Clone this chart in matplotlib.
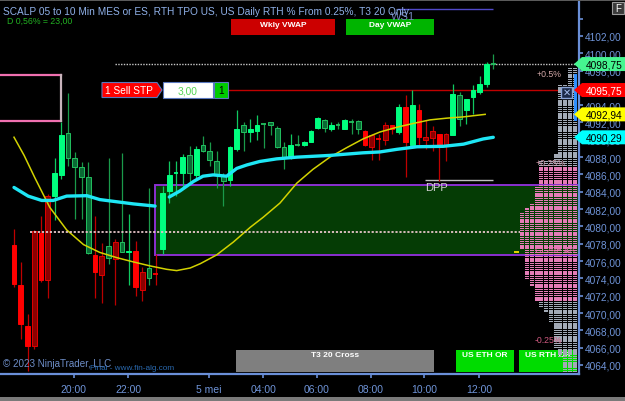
import numpy as np
import matplotlib
matplotlib.use("Agg")
import matplotlib.pyplot as plt
from matplotlib.patches import Rectangle, Polygon

# ---------------- data ----------------
opens = [4077.8, 4073.2, 4068.5, 4066.2, 4079.2, 4073.85, 4083.5, 4085.9, 4090.8, 4087.9,
         4086.9, 4085.7, 4076.7, 4074.4, 4077.7, 4076.2, 4078.2, 4077.0, 4077.2, 4072.7,
         4075.2, 4074.6, 4077.4, 4084.1, 4086.1, 4086.2, 4088.2, 4085.9, 4089.4, 4088.7,
         4087.5, 4085.8, 4085.4, 4088.9, 4091.7, 4090.9, 4091.0, 4091.9, 4092.1, 4091.4,
         4089.2, 4088.0, 4089.45, 4089.4, 4089.7, 4091.4, 4092.3, 4091.2, 4091.75, 4091.3,
         4092.05, 4092.2, 4091.0, 4089.2, 4090.15, 4090.0, 4091.7, 4090.9, 4093.8, 4089.4,
         4093.5, 4090.0, 4090.2, 4090.7, 4089.4, 4090.5, 4095.2, 4093.5, 4095.0, 4095.5,
         4096.4, 4098.8]
highs = [4079.7, 4075.9, 4069.9, 4079.6, 4081.2, 4083.7, 4087.9, 4092.0, 4095.4, 4088.6,
         4087.4, 4087.4, 4081.2, 4078.1, 4087.9, 4078.5, 4088.5, 4081.4, 4078.3, 4075.3,
         4084.4, 4076.8, 4084.7, 4087.5, 4087.6, 4088.4, 4089.3, 4089.3, 4090.4, 4089.7,
         4088.7, 4086.2, 4089.3, 4093.4, 4092.0, 4092.4, 4092.9, 4091.9, 4092.1, 4091.6,
         4089.7, 4090.7, 4090.5, 4089.9, 4091.1, 4092.6, 4092.4, 4092.1, 4092.1, 4092.4,
         4092.4, 4092.3, 4091.1, 4090.7, 4090.7, 4092.1, 4091.7, 4094.1, 4095.2, 4095.7,
         4094.1, 4092.3, 4091.6, 4090.7, 4090.8, 4096.4, 4095.5, 4094.7, 4096.3, 4097.4,
         4098.95, 4099.9]
lows = [4073.0, 4067.0, 4063.3, 4065.9, 4073.6, 4071.7, 4080.7, 4085.5, 4087.0, 4080.9,
        4080.9, 4076.8, 4071.7, 4071.2, 4075.7, 4070.9, 4077.1, 4073.2, 4072.0, 4071.4,
        4073.2, 4073.2, 4076.8, 4082.7, 4083.5, 4084.5, 4085.1, 4085.5, 4088.6, 4087.0,
        4084.4, 4082.4, 4084.7, 4088.7, 4088.7, 4089.7, 4090.0, 4089.1, 4090.5, 4089.1,
        4086.6, 4087.8, 4089.3, 4089.3, 4089.7, 4091.2, 4090.9, 4091.0, 4091.2, 4091.2,
        4090.7, 4090.7, 4089.3, 4087.7, 4087.7, 4089.4, 4090.7, 4090.7, 4085.7, 4089.4,
        4089.3, 4088.9, 4088.7, 4085.3, 4087.5, 4090.5, 4091.6, 4091.8, 4093.0, 4095.3,
        4096.1, 4098.2]
closes = [4073.4, 4068.7, 4066.2, 4079.5, 4073.85, 4083.5, 4086.2, 4090.5, 4087.9, 4086.9,
          4085.7, 4076.9, 4074.7, 4076.6, 4076.4, 4078.2, 4077.1, 4077.2, 4073.0, 4074.7,
          4074.1, 4074.5, 4083.9, 4085.9, 4086.2, 4088.0, 4086.2, 4088.9, 4088.7, 4087.7,
          4085.9, 4085.3, 4089.2, 4091.2, 4090.9, 4091.3, 4091.7, 4091.8, 4091.7, 4089.2,
          4088.0, 4089.4, 4089.35, 4089.7, 4091.0, 4092.5, 4091.4, 4091.7, 4091.65, 4092.3,
          4091.95, 4091.2, 4089.4, 4090.5, 4090.05, 4091.7, 4091.2, 4093.8, 4089.7, 4094.0,
          4090.3, 4090.3, 4091.0, 4089.4, 4090.7, 4095.3, 4092.4, 4094.7, 4095.7, 4096.4,
          4098.8, 4098.75]
trend = "RRRRRRGGGGGGRRGRGGRRGR" + "G" * 30 + "RRRRRGRGRRRRR" + "GGGGGGG"

# cyan VWAP-like line (bar index, price), two sessions
cyan1_x = [0, 2.1, 4.1, 5.8, 7.8, 10.8, 12.7, 15.2, 17.7, 20.9]
cyan1_y = [4084.5, 4083.5, 4083.0, 4083.0, 4083.5, 4083.55, 4083.1, 4082.85, 4082.6, 4082.35]
cyan2_x = [23.0, 24.6, 26.6, 28.0, 29.5, 31.5, 33.0, 34.5, 36.4, 38.9, 41.9, 46.8, 51.7,
           54.2, 56.7, 59.7, 63.6, 66.6, 69.5, 71.0]
cyan2_y = [4083.4, 4084.1, 4085.2, 4085.8, 4085.95, 4085.8, 4086.7, 4087.1, 4087.5, 4087.8,
           4088.0, 4088.2, 4088.5, 4088.6, 4088.9, 4089.2, 4089.25, 4089.5, 4090.1, 4090.29]
# yellow moving average
yel_x = [0, 1.5, 3.1, 5.3, 7.8, 10.3, 12.7, 15.2, 17.7, 20.1, 22.6, 24.1, 26.1, 27.6, 30.0,
         32.5, 35.0, 36.9, 39.4, 41.9, 44.3, 46.8, 49.3, 51.7, 54.2, 56.7, 59.2, 61.6, 64.1,
         66.6, 69.8]
yel_y = [4090.3, 4088.2, 4085.6, 4082.2, 4079.6, 4077.9, 4077.0, 4076.4, 4075.9, 4075.45,
         4075.05, 4074.9, 4075.2, 4075.7, 4076.7, 4078.2, 4079.9, 4081.05, 4082.7, 4085.0,
         4086.6, 4088.0, 4089.1, 4090.1, 4090.9, 4091.45, 4091.9, 4092.3, 4092.5, 4092.65,
         4092.94]

time_tick_pos = [8.85, 16.95, 28.9, 36.9, 44.85, 52.85, 60.8, 68.9]
time_tick_labels = ["20:00", "22:00", "5 mei", "04:00", "06:00", "08:00", "10:00", "12:00"]
price_ticks = list(range(4064, 4106, 2))

last_price = 4098.75
order_price = 4095.75
yellow_last = 4092.94
cyan_last = 4090.29
zone_top, zone_bottom, zone_start = 4084.84, 4076.7, 20.9
poc_level, poc_start, poc_end = 4079.4, 2.3, 75.0
dpp_level, dpp_start, dpp_end = 4085.36, 60.9, 70.9
ws1_level, ws1_start, ws1_end = 4105.1, 56.7, 70.9
pink_box_top, pink_box_bottom, pink_box_right = 4097.5, 4092.2, 6.96
last_line_start = 15.0

# TPO profile segments: top price, bottom price, TPO count, inside value area
prof_top = [4098.25, 4096.25, 4088.25, 4087.5, 4086.75, 4084.5, 4082.5, 4082.0, 4081.5,
            4077.25, 4073.75, 4073.0, 4071.25, 4070.5, 4070.0, 4068.75, 4065.75, 4064.75]
prof_bot = [4096.5, 4088.5, 4087.75, 4087.0, 4084.75, 4082.75, 4082.25, 4081.75, 4077.5,
            4074.0, 4073.25, 4071.5, 4070.75, 4070.25, 4069.0, 4066.0, 4065.0, 4063.25]
prof_cnt = [2, 4, 5, 8, 8, 9, 10, 11, 12, 11, 10, 9, 8, 7, 6, 5, 4, 3]
prof_va = [0, 0, 0, 0, 1, 1, 1, 1, 1, 1, 1, 1, 0, 0, 0, 0, 0, 0]

# ---------------- figure ----------------
W, H = 625, 402
fig = plt.figure(figsize=(W / 100, H / 100), dpi=100, facecolor="black")
ax = fig.add_axes([0, 27 / H, 579 / W, 375 / H])
ax.set_facecolor("black")
X0, X1 = -2.074, 83.70
ax.set_xlim(X0, X1)
ax.set_ylim(4062.96, 4106.26)
TF = fig.transFigure
FONT = "Liberation Sans"
AXC = "#6a8fd8"


def fx(x):
    return x / W


def fy(y):
    return 1 - y / H


def ypix(p):
    return (1 - TF.inverted().transform(ax.transData.transform((0, p)))[1]) * H


def ui_rect(x0, y0, x1, y1, fc, ec="none", lw=0, z=30):
    ax.add_patch(Rectangle((fx(x0), fy(y1)), fx(x1) - fx(x0), fy(y0) - fy(y1), transform=TF,
                           facecolor=fc, edgecolor=ec, linewidth=lw, clip_on=False, zorder=z))


def ui_poly(pts, fc, ec="none", lw=0, z=30):
    ax.add_patch(Polygon([(fx(a), fy(b)) for a, b in pts], closed=True, transform=TF,
                         facecolor=fc, edgecolor=ec, linewidth=lw, clip_on=False, zorder=z))


def ui_text(x, y, s, z=31, **kw):
    kw.setdefault("family", FONT)
    ax.text(fx(x), fy(y), s, transform=TF, clip_on=False, zorder=z, **kw)


# spines / axes
for s in ("left", "top"):
    ax.spines[s].set_visible(False)
for s in ("right", "bottom"):
    ax.spines[s].set_color(AXC)
    ax.spines[s].set_linewidth(1.6)
ax.yaxis.tick_right()
ax.set_yticks(price_ticks)
ax.set_yticklabels([("%.2f" % v).replace(".", ",") if v < 4104 else "" for v in price_ticks])
ax.set_xticks(time_tick_pos)
ax.set_xticklabels(time_tick_labels)
ax.tick_params(axis="y", direction="out", length=3, width=1.2, color=AXC, labelcolor="#6f94d8",
               labelsize=7.3, pad=1.5)
ax.tick_params(axis="x", direction="out", length=3, width=1.2, color=AXC, labelcolor="#6f94d8",
               labelsize=7.5, pad=4)
for lab in ax.get_xticklabels() + ax.get_yticklabels():
    lab.set_family(FONT)

# zone box
ax.add_patch(Rectangle((zone_start, zone_bottom), X1 + 5 - zone_start, zone_top - zone_bottom,
                       facecolor="#053c05", edgecolor="#8a30d0", linewidth=1.4, zorder=1))
# POC dotted line
ax.hlines(poc_level, poc_start, poc_end, colors="#e6c4c8", linestyles=(0, (1.2, 1.0)),
          linewidth=1.3, zorder=6)
# pink box top-left
ax.plot([X0 - 1, pink_box_right], [pink_box_top, pink_box_top], color="#f070b0", lw=1.6, zorder=2)
ax.plot([X0 - 1, pink_box_right], [pink_box_bottom, pink_box_bottom], color="#f070b0", lw=1.6, zorder=2)
ax.plot([pink_box_right, pink_box_right], [pink_box_bottom, pink_box_top], color="#c8b4bc", lw=1.6, zorder=2)

# last price dotted line
ax.hlines(last_price, last_line_start, X1, colors="#c8c8c8", linestyles=(0, (1, 1)), linewidth=1,
          zorder=2)
# order line
ax.axhline(order_price, xmin=228 / 579, xmax=566 / 579, color="#c00000", lw=1, zorder=2)
# WS1 and DPP lines
ax.hlines(ws1_level, ws1_start, ws1_end, colors="#5048c8", linewidth=1, zorder=2)
ax.hlines(dpp_level, dpp_start, dpp_end, colors="#c0c0c0", linewidth=1, zorder=2)
ax.text(dpp_start, dpp_level - 0.25, "DPP", color="#d0d0d0", fontsize=8, family=FONT,
        ha="left", va="top", zorder=6)

# TPO profile
u = 4.75 / 6.75
R = (577 - 14) / 6.75
for top, bot, cnt, va in zip(prof_top, prof_bot, prof_cnt, prof_va):
    col = "#e47cb6" if va else "#a2aab6"
    for p in np.arange(bot, top + 0.01, 0.25):
        ranges = [(R - (j + 1) * u + 0.07, u - 0.14) for j in range(cnt)]
        ax.broken_barh(ranges, (p - 0.08, 0.16), facecolors=col, zorder=3)

# candles
bw = 0.72
for k, (o, h, l, c, t) in enumerate(zip(opens, highs, lows, closes, trend)):
    up = c >= o
    if t == "G":
        if up:
            fc, ec, wc = "#00ff7f", "#00ff7f", "#10c860"
        else:
            fc, ec, wc = "#0a6a34", "#22c060", "#1a9a4a"
    else:
        if up:
            fc, ec, wc = "#8b0000", "#e00000", "#b80000"
        else:
            fc, ec, wc = "#ff0000", "#ff0000", "#c00000"
    ax.vlines(k, l, h, colors=wc, linewidth=0.9, zorder=4)
    if abs(c - o) < 0.15:
        ax.hlines((o + c) / 2, k - bw / 2, k + bw / 2, colors=ec, linewidth=1.3, zorder=4.5)
    else:
        ax.add_patch(Rectangle((k - bw / 2, min(o, c)), bw, abs(c - o), facecolor=fc,
                               edgecolor=ec, linewidth=0.7, zorder=4.5))

# indicator lines
ax.plot(yel_x, yel_y, color="#d2d200", lw=1.1, zorder=5.5)
ax.plot(cyan1_x, cyan1_y, color="#1ee6f5", lw=2.4, zorder=5.6, solid_capstyle="round")
ax.plot(cyan2_x, cyan2_y, color="#1ee6f5", lw=2.4, zorder=5.6, solid_capstyle="round")

# ---------------- UI elements ----------------
# frame lines top / bottom of window
ui_rect(0, 0, 625, 1.5, "#5a5a5a", z=40)
ui_rect(0, 398, 625, 402, "#7a7a7a", z=40)

# title texts
ui_text(3, 12, "SCALP 05 to 10 Min MES or ES, RTH TPO US, US Daily RTH % From 0.25%, T3 20 Only",
        color="#8fb0e8", fontsize=7.25, va="center", ha="left", z=41)
ui_text(7, 21, "D 0,56% = 23,00", color="#22b022", fontsize=6.3, va="center", ha="left", z=41)
ui_text(391, 16.5, "WS1", color="#7484bc", fontsize=8, va="center", ha="left", z=40)

# top buttons
ui_rect(231, 20, 335, 36, "#cc0000", z=30)
ui_text(283, 25.5, "Wkly VWAP", color="white", fontsize=6, fontweight="bold", ha="center", va="center")
ui_rect(346, 20, 434, 36, "#00b400", z=30)
ui_text(390, 25.5, "Day VWAP", color="white", fontsize=6, fontweight="bold", ha="center", va="center")

# bottom buttons
ui_rect(236, 351, 434, 373, "#7f7f7f", z=2.8)
ui_text(335, 356, "T3 20 Cross", color="white", fontsize=6, fontweight="bold", ha="center", va="center", z=2.9)
ui_rect(456, 351, 514, 373, "#00dc00", z=2.8)
ui_text(485, 356, "US ETH OR", color="white", fontsize=6, fontweight="bold", ha="center", va="center", z=2.9)
ui_rect(519, 351, 577, 373, "#00dc00", z=2.8)
ui_text(548, 356, "US RTH OR", color="white", fontsize=6, fontweight="bold", ha="center", va="center", z=2.9)

# copyright texts
ui_text(3, 364, "\u00a9 2023 NinjaTrader, LLC", color="#6e8ec8", fontsize=7.1, ha="left", va="center", z=8)
ui_text(90, 369, "Final - www.fin-alg.com", color="#2a6ab0", fontsize=5.9, ha="left", va="center", z=8)

# order label
yo = ypix(order_price)
ui_poly([(102, yo - 7.5), (157, yo - 7.5), (162, yo), (157, yo + 7.5), (102, yo + 7.5)],
        "#ff0000", ec="#5a78c0", lw=0.8, z=30)
ui_text(129, yo, "1 Sell STP", color="white", fontsize=7.3, ha="center", va="center")
ui_rect(163, yo - 8, 213, yo + 8, "white", ec="#5a78c0", lw=0.8, z=30)
ui_text(188, yo, "3,00", color="#52d452", fontsize=7.3, ha="center", va="center")
ui_rect(214, yo - 8, 228, yo + 8, "#00cc00", ec="#5a78c0", lw=0.8, z=30)
ui_text(221, yo, "1", color="black", fontsize=7.3, ha="center", va="center")

# profile percent labels
ui_text(537, ypix(4097.7), "+0.5%", color="#d2a8a8", fontsize=6.3, ha="left", va="center", z=8)
ui_text(536, ypix(4087.4), "+0.25%", color="#d8a0b0", fontsize=6.3, ha="left", va="center", z=8)
ui_text(535, ypix(4067.0), "-0.25%", color="#d05a80", fontsize=6.3, ha="left", va="center", z=8)
ui_text(535, ypix(4077.3), "CL29E 4A", color="#f070b0", fontsize=6.3, ha="left", va="center", z=8)
ui_rect(514, ypix(4077.0) - 1, 519, ypix(4077.0) + 1, "#e0d000", z=8)

# blue bar and X box near the axis
ui_rect(574, ypix(4097.6), 577, ypix(4092.2), "#2f8fff", z=8)
yx = ypix(4095.5)
ui_rect(561, yx - 5.5, 572, yx + 5.5, "#1c2a48", ec="#8aa4d8", lw=1, z=9)
ui_text(566.5, yx, "\u2715", color="#a8c0f0", fontsize=7, ha="center", va="center", z=10,
        family="DejaVu Sans")

# price tags on the right axis
for price, face, tcol in [(last_price, "#46f590", "black"), (order_price, "#ff0000", "white"),
                          (yellow_last, "#ffff00", "black"), (cyan_last, "#00ffff", "black")]:
    yc = ypix(price)
    ui_poly([(574, yc), (582, yc - 7), (625, yc - 7), (625, yc + 7), (582, yc + 7)], face, z=20)
    ui_text(586, yc, ("%.2f" % price).replace(".", ","), color=tcol, fontsize=7.3, ha="left",
            va="center", z=21)

# F button top-right
ui_rect(612, 3, 624, 15, "#3a3a3a", ec="#9a9a9a", lw=0.8, z=30)
ui_text(618, 9, "F", color="white", fontsize=7, ha="center", va="center")

fig.savefig("out.png", dpi=100, facecolor="black")
